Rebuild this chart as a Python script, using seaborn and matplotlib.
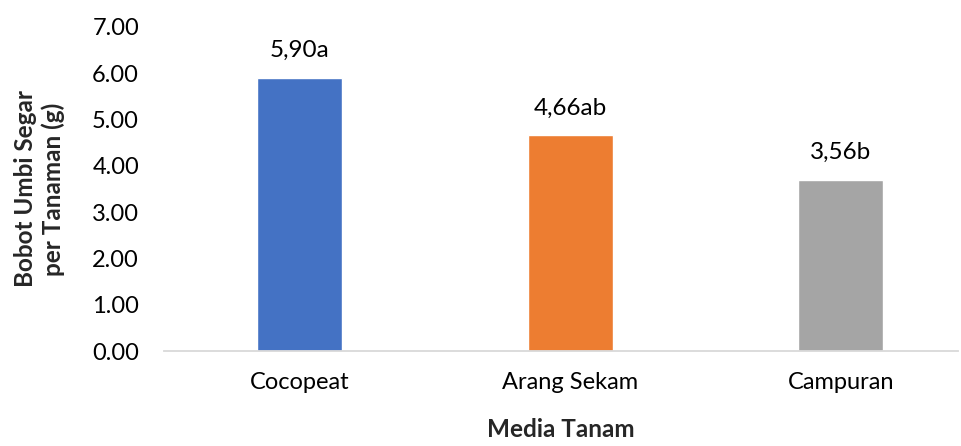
import matplotlib
matplotlib.use("Agg")
import matplotlib.pyplot as plt
import seaborn as sns
import pandas as pd

categories = ["Cocopeat", "Arang Sekam", "Campuran"]
values = [5.90, 4.66, 3.70]
labels = ["5,90a", "4,66ab", "3,56b"]
colors = ["#4472C4", "#ED7D31", "#A5A5A5"]
yticks = [0, 1, 2, 3, 4, 5, 6, 7]

sns.set_theme(style="white")
plt.rcParams["font.family"] = ["Lato", "DejaVu Sans"]

df = pd.DataFrame({"Media": categories, "Bobot": values})

fig = plt.figure(figsize=(9.61, 4.46), dpi=100)
ax = fig.add_axes([0.1707, 0.213, 0.8263, 0.727])
sns.barplot(data=df, x="Media", y="Bobot", hue="Media", palette=colors,
            width=0.314, legend=False, ax=ax, saturation=1)

ax.set_ylim(0, 7)
ax.set_xlim(-0.5, 2.434)
ax.set_yticks(yticks)
ax.set_yticklabels([f"{t:.2f}" for t in yticks])
ax.tick_params(axis="y", length=0, pad=18, labelsize=17, colors="#000000")
ax.tick_params(axis="x", length=0, pad=15, labelsize=17, colors="#000000")

for s in ["top", "right", "left"]:
    ax.spines[s].set_visible(False)
ax.spines["bottom"].set_color("#D9D9D9")
ax.spines["bottom"].set_linewidth(1.3)

for i, (v, lab) in enumerate(zip(values, labels)):
    ax.annotate(lab, xy=(i, v), xytext=(0, 12), textcoords="offset points",
                ha="center", va="bottom", fontsize=17.5, color="#000000")

ax.set_xlabel("Media Tanam", fontsize=17.5, fontweight="bold")
ax.xaxis.set_label_coords(0.5, -0.207)
ax.set_ylabel("Bobot Umbi Segar\nper Tanaman (g)", fontsize=17.5,
              fontweight="bold", linespacing=1.2)
ax.yaxis.set_label_coords(-0.125, 0.5)

fig.savefig("out.png", dpi=100)
